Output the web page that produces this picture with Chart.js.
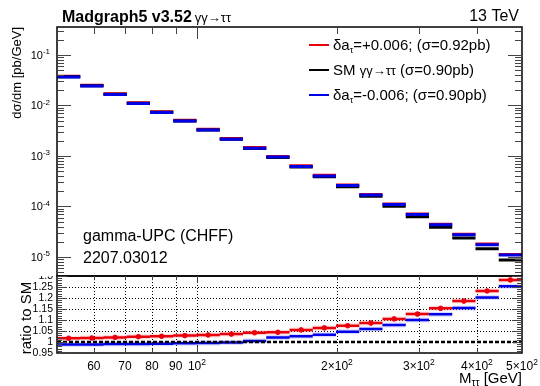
<!DOCTYPE html>
<html><head><meta charset="utf-8">
<script src="https://cdn.jsdelivr.net/npm/chart.js@4.4.1/dist/chart.umd.min.js"></script>
<style>html,body{margin:0;padding:0;background:#fff}#wrap{width:540px;height:386px;position:relative}</style>
</head><body><div id="wrap"><canvas id="c" width="540" height="386"></canvas></div>
<script>
// ---- data ----
const binEdges = [50, 56.10, 62.95, 70.63, 79.24, 88.91, 99.76, 111.94, 125.59, 140.92, 158.11, 177.40, 199.05, 223.34, 250.59, 281.17, 315.48, 353.97, 397.16, 445.63, 500];
const smValues = [0.0372, 0.0247, 0.01667, 0.01106, 0.00733, 0.00493, 0.00327, 0.00214, 0.00141, 0.000934, 0.000606, 0.000389, 0.000247, 0.000159, 0.000101, 6.28e-5, 3.87e-5, 2.38e-5, 1.46e-5, 8.73e-6];
const plusValues = [0.0378, 0.0251, 0.0170, 0.01133, 0.00752, 0.00507, 0.00337, 0.00222, 0.00147, 0.000975, 0.000639, 0.000414, 0.000265, 0.000173, 0.000112, 7.08e-5, 4.46e-5, 2.82e-5, 1.80e-5, 1.12e-5];
const minusValues = [0.0368, 0.0244, 0.0165, 0.01096, 0.00727, 0.00490, 0.00325, 0.00214, 0.00142, 0.000954, 0.000622, 0.000402, 0.000259, 0.000168, 0.000109, 6.91e-5, 4.36e-5, 2.75e-5, 1.75e-5, 1.09e-5];
const ratioPlus = [1.017, 1.018, 1.021, 1.024, 1.026, 1.029, 1.032, 1.036, 1.042, 1.044, 1.055, 1.064, 1.074, 1.086, 1.105, 1.127, 1.153, 1.186, 1.232, 1.282];
const ratioPlusErr = [0.003, 0.003, 0.003, 0.003, 0.003, 0.003, 0.003, 0.003, 0.003, 0.003, 0.004, 0.004, 0.004, 0.004, 0.004, 0.004, 0.005, 0.005, 0.005, 0.006];
const ratioMinus = [0.989, 0.989, 0.991, 0.991, 0.992, 0.994, 0.995, 0.998, 1.005, 1.021, 1.026, 1.033, 1.047, 1.059, 1.077, 1.100, 1.126, 1.155, 1.202, 1.253];
const ratioSM = [1, 1];
const ratioSMx = [50, 500];
const xTickValues = [60, 70, 80, 90, 100, 200, 300, 400, 500];
const xTickBase = ['60', '70', '80', '90', '10', '2\u00d710', '3\u00d710', '4\u00d710', '5\u00d710'];
const xTickSup = ['', '', '', '', '2', '2', '2', '2', '2'];
const yDecades = [1e-5, 1e-4, 1e-3, 1e-2, 1e-1];
const yDecadeSup = ['-5', '-4', '-3', '-2', '-1'];
const ratioTickValues = [0.95, 1.0, 1.05, 1.1, 1.15, 1.2, 1.25, 1.3];
const ratioTickLabels = ['0.95', '1', '1.05', '1.1', '1.15', '1.2', '1.25', '1.3'];
const legendLabels = ['+0.006; (\u03c3=0.92pb)', ' (\u03c3=0.90pb)', '-0.006; (\u03c3=0.90pb)'];

// ---- build library data ----
function segs(vals){
  const pts=[];
  vals.forEach((v,i)=>{ pts.push({x:binEdges[i],y:v},{x:binEdges[i+1],y:v},{x:binEdges[i+1],y:null}); });
  return pts;
}
function centers(vals){
  return vals.map((v,i)=>({x:Math.sqrt(binEdges[i]*binEdges[i+1]), y:v}));
}
const RED='#e8000b', BLUE='#0000e6', BLACK='#000';
const FONT='"Liberation Sans", Arial, Helvetica, sans-serif';

function fnt(sz, bold){ return (bold?'bold ':'')+sz+'px '+FONT; }
function drawSup(ctx, base, sup, x, y, align, size, supSize){
  ctx.font=fnt(size); const wb=ctx.measureText(base).width;
  ctx.font=fnt(supSize); const ws=sup?ctx.measureText(sup).width:0;
  const tot=wb+ws;
  const x0 = align==='right'? x-tot : align==='center'? x-tot/2 : x;
  ctx.textAlign='left'; ctx.textBaseline='alphabetic';
  ctx.font=fnt(size); ctx.fillText(base,x0,y);
  if(sup){ ctx.font=fnt(supSize); ctx.fillText(sup,x0+wb,y-size*0.42); }
}
function seq(ctx, parts, x, y){
  ctx.textAlign='left'; ctx.textBaseline='alphabetic';
  let cx=x;
  parts.forEach(p=>{ ctx.font=fnt(p[1], p[3]); ctx.fillText(p[0], cx, y+(p[2]||0)); cx+=ctx.measureText(p[0]).width; });
  return cx;
}
function ln(ctx,x1,y1,x2,y2){ ctx.beginPath(); ctx.moveTo(x1,y1); ctx.lineTo(x2,y2); ctx.stroke(); }

const rootPlugin = {
  id:'root',
  beforeDatasetsDraw(chart){
    const ctx=chart.ctx, x=chart.scales.x, yr=chart.scales.yr;
    ctx.save();
    ctx.strokeStyle='#000'; ctx.lineWidth=1; ctx.setLineDash([1,2]);
    ratioTickValues.forEach(v=>{ if(v>1.001 && v<1.29){ const py=Math.round(yr.getPixelForValue(v))+0.5; ln(ctx,x.left,py,x.right,py);} });
    xTickValues.forEach(v=>{ if(v<499){ const px=Math.round(x.getPixelForValue(v))+0.5; ln(ctx,px,yr.top,px,yr.bottom);} });
    ctx.restore();
  },
  afterDatasetsDraw(chart){
    const ctx=chart.ctx, x=chart.scales.x, yr=chart.scales.yr;
    ctx.save(); ctx.strokeStyle=RED; ctx.lineWidth=1.5;
    ratioPlus.forEach((v,i)=>{ const px=x.getPixelForValue(Math.sqrt(binEdges[i]*binEdges[i+1]));
      ln(ctx,px,yr.getPixelForValue(v-ratioPlusErr[i]),px,yr.getPixelForValue(v+ratioPlusErr[i])); });
    ctx.restore();
  },
  afterDraw(chart){
    const ctx=chart.ctx, x=chart.scales.x, y=chart.scales.y, yr=chart.scales.yr;
    const L=x.left, R=x.right, T=y.top, M=y.bottom, B=yr.bottom;
    ctx.save();
    ctx.strokeStyle='#000'; ctx.lineWidth=1.5;
    ctx.strokeRect(L, T, R-L, M-T);
    ctx.strokeRect(L, M, R-L, B-M);
    ctx.lineWidth=1; ctx.strokeStyle='#444';
    for(let d=-6; d<=0; d++){
      for(let k=1;k<=9;k++){
        const v=k*Math.pow(10,d);
        if(v<y.min||v>y.max) continue;
        const py=Math.round(y.getPixelForValue(v))+0.5;
        const len = k===1?14:7;
        ln(ctx,L,py,L+len,py); ln(ctx,R-len,py,R,py);
      }
    }
    for(let i=0;i<=35;i++){
      const v=0.95+i*0.01; const py=Math.round(yr.getPixelForValue(v))+0.5;
      const len=(i%5===0)?10:5;
      ln(ctx,L,py,L+len,py); ln(ctx,R-len,py,R,py);
    }
    xTickValues.forEach(v=>{
      const px=Math.round(x.getPixelForValue(v))+0.5;
      const len = (v===100)?12:7;
      ln(ctx,px,T,px,T+len);
      ln(ctx,px,M,px,M+len*0.6);
      ln(ctx,px,B,px,B-len*0.6);
    });
    ctx.fillStyle='#000';
    yDecades.forEach((v,i)=>{ const py=y.getPixelForValue(v); drawSup(ctx,'10',yDecadeSup[i],50,py+4,'right',11,8); });
    ctx.save(); ctx.beginPath(); ctx.rect(0,M,200,200); ctx.clip();
    ratioTickValues.forEach((v,i)=>{ const py=yr.getPixelForValue(v); ctx.font=fnt(10.5); ctx.textAlign='right'; ctx.textBaseline='middle'; ctx.fillText(ratioTickLabels[i],53,py+0.5); });
    ctx.restore();
    xTickValues.forEach((v,i)=>{ const px=x.getPixelForValue(v); drawSup(ctx,xTickBase[i],xTickSup[i],px,370,'center',12,8.5); });
    ctx.save(); ctx.translate(21,27); ctx.rotate(-Math.PI/2); ctx.font=fnt(13); ctx.textAlign='right'; ctx.textBaseline='alphabetic'; ctx.fillText('d\u03c3/dm [pb/GeV]',0,0); ctx.restore();
    ctx.save(); ctx.translate(31,318); ctx.rotate(-Math.PI/2); ctx.font=fnt(15); ctx.textAlign='center'; ctx.textBaseline='alphabetic'; ctx.fillText('ratio to SM',0,0); ctx.restore();
    ctx.font=fnt(15); const w1=ctx.measureText('M').width; const w3=ctx.measureText(' [GeV]').width; ctx.font=fnt(10); const w2=ctx.measureText('\u03c4\u03c4').width;
    seq(ctx,[['M',15],['\u03c4\u03c4',10,3],[' [GeV]',15]], R-(w1+w2+w3), 383);
    const ex=seq(ctx,[['Madgraph5 v3.52',16,0,true]],62,22);
    seq(ctx,[['\u03b3\u03b3\u2192\u03c4\u03c4',13]],ex+3,22);
    ctx.font=fnt(16); ctx.textAlign='right'; ctx.fillText('13 TeV',519,21);
    seq(ctx,[['gamma-UPC (CHFF)',16]],83,241);
    seq(ctx,[['2207.03012',16]],83,263);
    const rows=[[RED,45],[BLACK,70],[BLUE,95]];
    rows.forEach((r,i)=>{
      ctx.strokeStyle=r[0]; ctx.lineWidth=2; ln(ctx,309,r[1],329,r[1]);
      const by=r[1]+5;
      if(i===1){ seq(ctx,[['SM ',15],['\u03b3\u03b3\u2192\u03c4\u03c4',13],[legendLabels[1],15]],333,by); }
      else { seq(ctx,[['\u03b4a',15],['\u03c4',9,3],['=',15],[legendLabels[i],15]],333,by); }
    });
    ctx.restore();
  }
};

const ds = [
  {label:'\u03b4a\u03c4=-0.006', data:segs(minusValues), yAxisID:'y', borderColor:BLUE, borderWidth:3},
  {label:'SM', data:segs(smValues), yAxisID:'y', borderColor:BLACK, borderWidth:3},
  {label:'\u03b4a\u03c4=+0.006', data:segs(plusValues), yAxisID:'y', borderColor:RED, borderWidth:3},
  {label:'ratio SM', data:ratioSMx.map((v,i)=>({x:v,y:ratioSM[i]})), yAxisID:'yr', borderColor:BLACK, borderWidth:2.5, borderDash:[4,2]},
  {label:'ratio -', data:segs(ratioMinus), yAxisID:'yr', borderColor:BLUE, borderWidth:2.5},
  {label:'ratio - band', data:segs(ratioMinus), yAxisID:'yr', borderColor:'rgba(110,110,255,0.25)', borderWidth:5},
  {label:'ratio + pts', data:centers(ratioPlus), yAxisID:'yr', showLine:false, pointRadius:2.3, pointBackgroundColor:RED, pointBorderColor:RED, borderColor:RED},
  {label:'ratio +', data:segs(ratioPlus), yAxisID:'yr', borderColor:RED, borderWidth:2.5},
  {label:'ratio + band', data:segs(ratioPlus), yAxisID:'yr', borderColor:'rgba(255,110,110,0.25)', borderWidth:5}
];
ds.forEach(d=>{ if(d.pointRadius===undefined){ d.pointRadius=0; } d.fill=false; d.spanGaps=false; d.tension=0; });

new Chart(document.getElementById('c'), {
  type:'line',
  data:{datasets:ds},
  options:{
    responsive:false, animation:false, devicePixelRatio:1,
    layout:{padding:{top:27,right:18,left:0,bottom:0}},
    plugins:{legend:{display:false}, tooltip:{enabled:false}, title:{display:false}},
    scales:{
      x:{type:'logarithmic', min:50, max:500, position:'bottom', grid:{display:false}, border:{display:false}, ticks:{display:false}, afterFit:s=>{s.height=33;}},
      yr:{type:'linear', min:0.95, max:1.3, position:'left', stack:'p', stackWeight:77, grid:{display:false}, border:{display:false}, ticks:{display:false}, afterFit:s=>{s.width=57;}},
      y:{type:'logarithmic', min:4.2e-6, max:0.358, position:'left', stack:'p', stackWeight:249, grid:{display:false}, border:{display:false}, ticks:{display:false}, afterFit:s=>{s.width=57;}}
    }
  },
  plugins:[rootPlugin]
});
</script></body></html>
